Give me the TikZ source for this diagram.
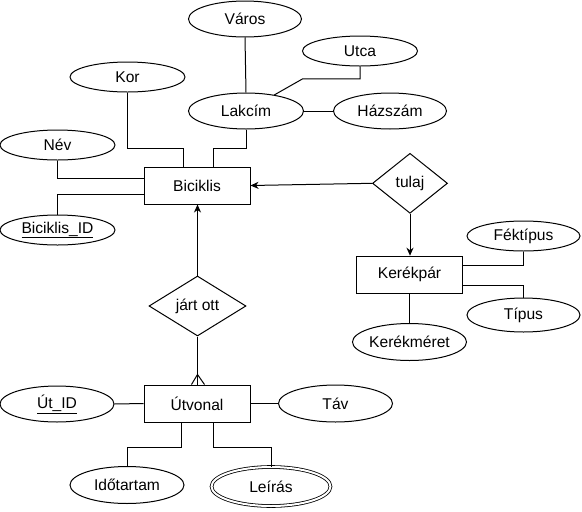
\documentclass[tikz,border=0pt]{standalone}
\usepackage{fontspec}
\setmainfont{Liberation Sans}
\usetikzlibrary{shapes.geometric,arrows.meta}
\begin{document}
\begin{tikzpicture}[x=1pt,y=-1pt,
  every node/.style={font=\fontsize{15.6}{18}\selectfont},
  line width=1pt,
  attr/.style={draw,ellipse,inner sep=0pt,minimum width=#1},
  attr/.default=115pt,
  ent/.style={draw,rectangle,inner sep=0pt,minimum width=106pt,minimum height=37pt},
  rel/.style={draw,diamond,inner sep=0pt,aspect=1.3},
  arr/.style={-{Stealth[length=8pt,width=7pt,inset=2.5pt]}}
]
\useasboundingbox (0,0) rectangle (582,512);

% entities
\node[ent] (bic) at (197,185.5) {Biciklis};
\node[ent] (kerek) at (409.5,274.7) {Kerékpár};
\node[ent] (utv) at (197,403.5) {Útvonal};

% relationships
\node[rel,minimum width=75pt,minimum height=60pt] (tulaj) at (410,183.3) {tulaj};
\node[rel,minimum width=97pt,minimum height=60pt] (jart) at (197.5,306) {járt ott};

% attributes
\node[attr=113pt,minimum height=36pt] (varos) at (245,19) {Város};
\node[attr,minimum height=30pt] (utca) at (360,51) {Utca};
\node[attr,minimum height=30pt] (kor) at (127.5,77) {Kor};
\node[attr,minimum height=36pt] (lakcim) at (246,111) {Lakcím};
\node[attr=113pt,minimum height=36pt] (hazszam) at (390,111) {Házszám};
\node[attr,minimum height=30pt] (nev) at (57.5,145) {Név};
\node[attr,minimum height=30pt] (bid) at (57.5,230) {\underline{Biciklis\_ID}};
\node[attr=113pt,minimum height=30pt] (fek) at (523.5,236) {Féktípus};
\node[attr=113pt,minimum height=34pt] (tipus) at (523.5,315) {Típus};
\node[attr=114pt,minimum height=37pt] (kmeret) at (409.5,342) {Kerékméret};
\node[attr=114pt,minimum height=36pt] (utid) at (57,404) {\underline{Út\_ID}};
\node[attr=114pt,minimum height=37pt] (tav) at (335.5,403.5) {Táv};
\node[attr=114pt,minimum height=37pt] (ido) at (127,485) {Időtartam};
\node[attr=119pt,minimum height=39pt,double,double distance=2pt,line width=0.8pt] (leiras) at (271,486.5) {Leírás};

% Biciklis attributes
\draw (kor.south) -- ++(0,56) -| ([xshift=40pt]bic.north west);
\draw (lakcim.south) -- ++(0,19) -| ([xshift=70pt]bic.north west);
\draw (nev.south) |- ([yshift=7.5pt]bic.west);
\draw (bid.north) |- ([yshift=-8.5pt]bic.west);
\draw (varos.south) -- (lakcim.north);
\draw (utca.south) -- ++(0,12.3) -- ++(-57.3,0) -- (lakcim);
\draw (lakcim.east) -- (hazszam.west);

% tulaj
\draw[arr] (tulaj.west) -- (bic.east);
\draw[arr] (tulaj.south) -- (tulaj.south |- kerek.north);

% Kerékpár attributes
\draw ([yshift=9.7pt]kerek.east) -| (fek.south);
\draw ([yshift=-10.3pt]kerek.east) -| (tipus.north);
\draw (kerek.south) -- (kmeret.north);

% járt ott
\draw[arr] (jart.north) -- (jart.north |- bic.south);
\draw (jart.south) -- (jart.south |- utv.north);
\draw ([xshift=-6pt]jart.south |- utv.north) -- ([yshift=10pt]jart.south |- utv.north) -- ([xshift=7pt]jart.south |- utv.north);

% Útvonal attributes
\draw (utid.east) -- (utv.west);
\draw (utv.east) -- (tav.west);
\draw ([xshift=-15.3pt]utv.south) -- ++(0,24.7) -| (ido.north);
\draw ([xshift=16.3pt]utv.south) -- ++(0,24.7) -| (leiras.north);
\end{tikzpicture}
\end{document}
